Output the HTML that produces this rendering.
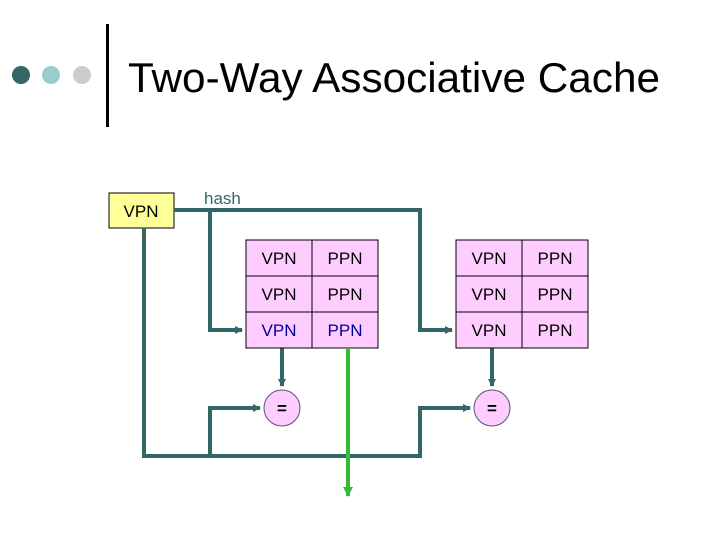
<!DOCTYPE html>
<html><head><style>
body{margin:0;width:720px;height:540px;background:#fff;overflow:hidden}
</style></head><body>
<svg width="720" height="540" xmlns="http://www.w3.org/2000/svg" font-family="Liberation Sans, sans-serif">
<defs>
<marker id="a" markerWidth="8" markerHeight="8" refX="7" refY="4" orient="auto" markerUnits="userSpaceOnUse"><path d="M0,0 L8,4 L0,8z" fill="#336666"/></marker>
<marker id="g" markerWidth="10" markerHeight="10" refX="9" refY="5" orient="auto" markerUnits="userSpaceOnUse"><path d="M0,0 L10,5 L0,10z" fill="#33bb33"/></marker>
</defs>
<circle cx="21" cy="75" r="9" fill="#336666"/>
<circle cx="51" cy="75" r="9" fill="#99cccc"/>
<circle cx="82" cy="75" r="9" fill="#cccccc"/>
<rect x="106" y="24" width="3" height="103" fill="#000"/>
<text x="128" y="92" font-size="42" textLength="532" lengthAdjust="spacingAndGlyphs">Two-Way Associative Cache</text>
<rect x="109" y="193" width="65" height="35" fill="#ffff99" stroke="#000" stroke-width="1"/>
<text x="141" y="217" font-size="17" text-anchor="middle">VPN</text>
<text x="204" y="204" font-size="17" fill="#336666">hash</text>
<g stroke="#336666" stroke-width="4" fill="none">
<polyline points="174,210 420,210 420,330 452,330" marker-end="url(#a)"/>
<polyline points="210,210 210,330 242,330" marker-end="url(#a)"/>
<polyline points="144,228 144,456 420,456 420,408 470,408" marker-end="url(#a)"/>
<polyline points="210,456 210,408 260,408" marker-end="url(#a)"/>
<line x1="282" y1="348" x2="282" y2="386" marker-end="url(#a)"/>
<line x1="492" y1="348" x2="492" y2="386" marker-end="url(#a)"/>
</g>
<g stroke="#000" stroke-width="1" fill="#ffccff">
<rect x="246" y="240" width="132" height="108"/>
<line x1="312" y1="240" x2="312" y2="348"/><line x1="246" y1="276" x2="378" y2="276"/><line x1="246" y1="312" x2="378" y2="312"/>
<rect x="456" y="240" width="132" height="108"/>
<line x1="522" y1="240" x2="522" y2="348"/><line x1="456" y1="276" x2="588" y2="276"/><line x1="456" y1="312" x2="588" y2="312"/>
</g>
<g font-size="17" text-anchor="middle">
<text x="279" y="264">VPN</text><text x="345" y="264">PPN</text>
<text x="279" y="300">VPN</text><text x="345" y="300">PPN</text>
<text x="279" y="336" fill="#000099">VPN</text><text x="345" y="336" fill="#000099">PPN</text>
<text x="489" y="264">VPN</text><text x="555" y="264">PPN</text>
<text x="489" y="300">VPN</text><text x="555" y="300">PPN</text>
<text x="489" y="336">VPN</text><text x="555" y="336">PPN</text>
</g>
<line x1="348" y1="348" x2="348" y2="496" stroke="#33bb33" stroke-width="4" marker-end="url(#g)"/>
<circle cx="282" cy="408" r="18" fill="#ffccff" stroke="#555577" stroke-width="1"/>
<circle cx="492" cy="408" r="18" fill="#ffccff" stroke="#555577" stroke-width="1"/>
<text x="282" y="414" font-size="17" text-anchor="middle" font-weight="bold">=</text>
<text x="492" y="414" font-size="17" text-anchor="middle" font-weight="bold">=</text>
</svg>
</body></html>
